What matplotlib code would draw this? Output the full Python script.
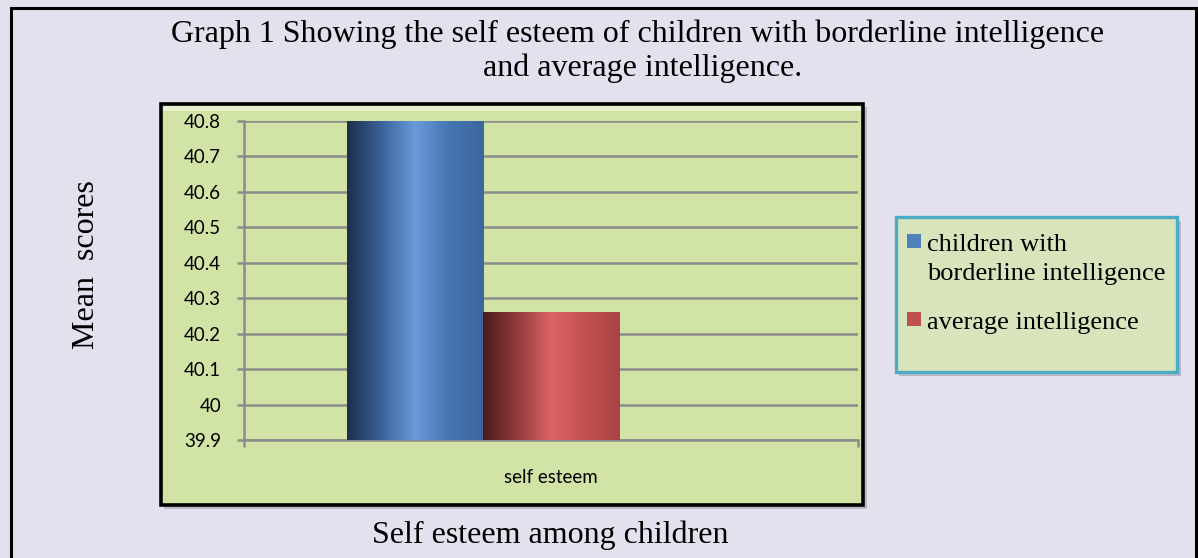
import numpy as np
import matplotlib
matplotlib.use('Agg')
import matplotlib.pyplot as plt
from matplotlib.patches import Rectangle
from matplotlib.colors import LinearSegmentedColormap

# chart data
CATEGORY = 'self esteem'
SERIES = ['children with\nborderline intelligence', 'average intelligence']
VALUES = [40.8, 40.26]
YTICKS = [39.9, 40.0, 40.1, 40.2, 40.3, 40.4, 40.5, 40.6, 40.7, 40.8]
YTICK_LABELS = ['39.9', '40', '40.1', '40.2', '40.3', '40.4', '40.5', '40.6', '40.7', '40.8']

TITLE1 = 'Graph 1 Showing the self esteem of children with borderline intelligence'
TITLE2 = 'and average intelligence.'
YLABEL = 'Mean  scores'
XLABEL = 'Self esteem among children'

W, H = 1198, 558
BG = '#e4e0ee'
GREEN = '#d2e3a6'
GRID = '#8c8c8c'
SERIF = 'Liberation Serif'
SANS = 'Lato'

GRADS = [['#1d2f4c', '#3a6299', '#6a9bdb', '#4675b0', '#3b679f'],
         ['#4a1b1d', '#943a3c', '#dd6464', '#c45050', '#a84345']]
SWATCH = ['#4f81bd', '#c0504d']


def fx(px):
    return px / W


def fy(py):
    return 1 - py / H


def box(x0, y0, x1, y1, **kw):
    # rectangle in pixel coords (top-left origin) on the figure
    r = Rectangle((fx(x0), fy(y1)), (x1 - x0) / W, (y1 - y0) / H,
                  transform=fig.transFigure, **kw)
    fig.patches.append(r)
    return r


fig = plt.figure(figsize=(W / 100, H / 100), dpi=100, facecolor=BG)

# outer page frame (runs off the bottom)
box(11, 8, 1196, 620, fill=False, ec='black', lw=2.2, zorder=-5)

# green chart box with shadow and light top bevel
box(164, 107, 867, 509, fc='#a09eab', ec='none', alpha=0.6, zorder=-5)
box(161, 104, 863, 505, fc=GREEN, ec='black', lw=2.6, zorder=-4)
box(163, 106, 861, 111, fc='#e8f1cf', ec='none', zorder=-3)

ax = fig.add_axes([fx(244), fy(440), (858 - 244) / W, (440 - 121) / H])
ax.set_facecolor('none')
ax.set_zorder(2)

ymin, ymax = YTICKS[0], YTICKS[-1]
xs = np.array([-0.5, 0.5])
bars = ax.bar(xs, np.array(VALUES) - ymin, bottom=ymin, width=1.0, zorder=3)

# cylinder-like shading, clipped to each bar
for bar, cols in zip(bars, GRADS):
    bar.set_facecolor('none')
    bar.set_edgecolor('none')
    cmap = LinearSegmentedColormap.from_list('g', cols)
    grad = np.linspace(0, 1, 256).reshape(1, -1)
    x0, y0 = bar.get_x(), bar.get_y()
    im = ax.imshow(grad, cmap=cmap, aspect='auto', zorder=3,
                   extent=[x0, x0 + bar.get_width(), y0, y0 + bar.get_height()])
    im.set_clip_path(bar)

ax.set_xlim(-1.757, 2.757)
ax.set_ylim(ymin, ymax)

for sp in ['top', 'right']:
    ax.spines[sp].set_visible(False)
for sp in ['left', 'bottom']:
    ax.spines[sp].set_color(GRID)
    ax.spines[sp].set_linewidth(1.8)

ax.set_yticks(YTICKS)
ax.set_yticklabels(YTICK_LABELS, fontsize=13.5, family=SANS)
ax.tick_params(axis='y', direction='out', length=5, width=1.8, color=GRID, pad=11.5)
ax.yaxis.grid(True, color=GRID, lw=1.8, zorder=1)
ax.set_axisbelow(True)

ax.set_xticks([np.mean(ax.get_xlim())])
ax.set_xticklabels([CATEGORY], fontsize=13.5, family=SANS)
ax.tick_params(axis='x', length=0, pad=21)
ax.set_xticks(list(ax.get_xlim()), minor=True)
ax.tick_params(axis='x', which='minor', direction='out', length=5, width=1.8, color=GRID)

# titles and axis labels
fig.text(fx(638), fy(42), TITLE1, family=SERIF, fontsize=23, ha='center', va='baseline')
fig.text(fx(643), fy(76), TITLE2, family=SERIF, fontsize=23, ha='center', va='baseline')
fig.text(fx(86), fy(265), YLABEL, family=SERIF, fontsize=23, rotation=90, ha='center', va='center')
fig.text(fx(550), fy(543), XLABEL, family=SERIF, fontsize=23, ha='center', va='baseline')

# legend box
box(899, 221, 1181, 376, fc='#a09eab', ec='none', alpha=0.6, zorder=-5)
box(896, 217, 1177, 372, fc='#d8e4bc', ec='#4bacc6', lw=2.4, zorder=-4)
sq = 14
for lab, col, top, base in zip(SERIES, SWATCH, [234, 312], [251, 329]):
    box(907, top, 907 + sq, top + sq, fc=col, ec='none', zorder=-2)
    lines = lab.split('\n')
    for i, ln in enumerate(lines):
        fig.text(fx(927), fy(base + 29 * i), ln, family=SERIF, fontsize=19,
                 ha='left', va='baseline')

fig.savefig('out.png', dpi=100, facecolor=BG)
